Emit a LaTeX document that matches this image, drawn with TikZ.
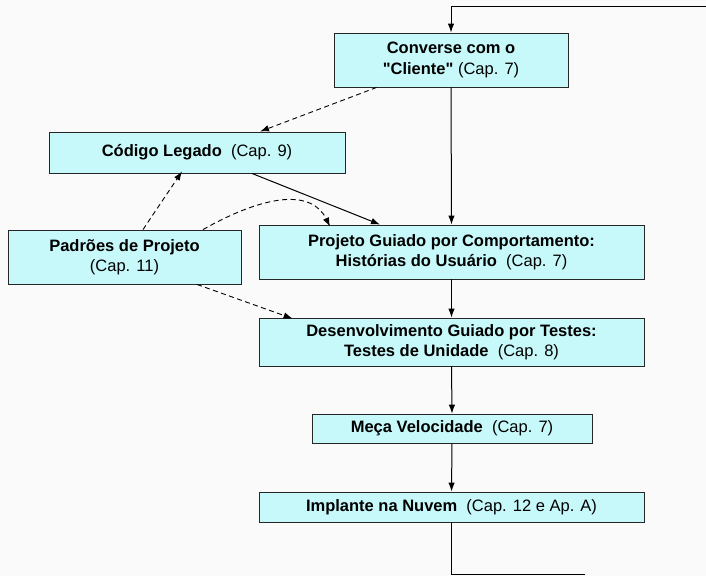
\documentclass[tikz,border=0pt]{standalone}
\usepackage{fontspec}
\setmainfont[Ligatures=TeXOff]{Liberation Sans}
\usetikzlibrary{arrows.meta}
\definecolor{boxcyan}{RGB}{200,249,250}
\definecolor{pagegray}{RGB}{250,250,250}
\tikzset{
  stage/.style={draw=black!85,fill=boxcyan,line width=0.9pt,align=center,
    font=\fontsize{16.5}{20.5}\selectfont,inner sep=0pt},
  flow/.style={->,line width=1pt},
  hint/.style={->,line width=0.9pt,dash pattern=on 5pt off 3.5pt}
}
\begin{document}
\begin{tikzpicture}[x=1pt,y=-1pt,>={Latex[length=9pt,width=6.5pt]}]
\fill[pagegray](0,0)rectangle(706,576);
\useasboundingbox(0,0)rectangle(706,576);
% boxes
\node[stage,minimum width=234pt,minimum height=54pt] (conv) at(451,60)
  {\textbf{Converse com o}\\\textbf{"Cliente"} (Cap. 7)};
\node[stage,minimum width=296pt,minimum height=41pt] (legado) at(197,152.5)
  {\textbf{Código Legado}\ \ (Cap. 9)};
\node[stage,minimum width=233pt,minimum height=54pt] (padroes) at(124.5,257)
  {\textbf{Padrões de Projeto}\\(Cap. 11)};
\node[stage,minimum width=385pt,minimum height=54pt] (bdd) at(451.5,252)
  {\textbf{Projeto Guiado por Comportamento:}\\\textbf{Histórias do Usuário}\ \ (Cap. 7)};
\node[stage,minimum width=385pt,minimum height=48pt] (tdd) at(451.5,342)
  {\textbf{Desenvolvimento Guiado por Testes:}\\\textbf{Testes de Unidade}\ \ (Cap. 8)};
\node[stage,minimum width=280pt,minimum height=29pt] (veloc) at(452,428.5)
  {\textbf{Meça Velocidade}\ \ (Cap. 7)};
\node[stage,minimum width=385pt,minimum height=30pt] (nuvem) at(451.5,507)
  {\textbf{Implante na Nuvem}\ \ (Cap. 12 e Ap. A)};
\coordinate (volta) at(706,6);
\coordinate (saida) at(585,574);
% main flow
\draw[flow](volta)-|(conv.north);
\draw[flow](conv.south)--(bdd.north);
\draw[flow](bdd.south)--(tdd.north);
\draw[flow](tdd.south)--(veloc.north);
\draw[flow](veloc.south)--(nuvem.north);
\draw[line width=1pt](nuvem.south)|-(saida);
\draw[flow]([xshift=55pt]legado.south)--([xshift=-71.5pt]bdd.north);
% dashed hints
\draw[hint]([xshift=43pt]conv.south west)--([xshift=63pt]legado.north);
\draw[hint]([xshift=18.5pt]padroes.north)--([xshift=-15pt,yshift=2pt]legado.south);
\draw[hint]([xshift=78.5pt]padroes.north) .. controls (268,193) and (312,190) .. ([xshift=-121.5pt,yshift=-2pt]bdd.north);
\draw[hint]([xshift=72.5pt]padroes.south)--([xshift=34pt,yshift=-1pt]tdd.north west);
\end{tikzpicture}
\end{document}
